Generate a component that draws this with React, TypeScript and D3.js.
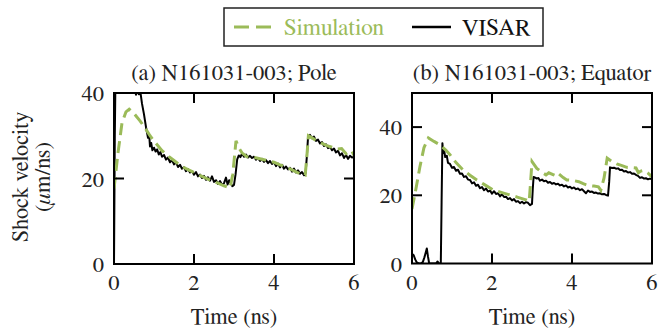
import React from "react";
import * as d3 from "d3";

// Shock velocity (µm/ns) vs time (ns), [t, v] pairs
const poleVisar: [number, number][] = [
  [0, 0], [0.02, 30], [0.04, 46], [0.2, 50], [0.4, 47], [0.5, 42], [0.55, 39.6], [0.58, 40.8],
  [0.62, 39.7], [0.66, 40.2], [0.7, 37.5], [0.75, 35], [0.8, 32], [0.85, 29.5], [0.88, 30.2],
  [0.9, 27.5], [0.93, 28.3], [0.96, 26.6], [1.0, 27.2], [1.04, 26.3], [1.08, 26.8], [1.12, 25.6],
  [1.16, 26.2], [1.2, 25.1], [1.25, 25.5], [1.3, 24.4], [1.35, 24.9], [1.4, 23.8], [1.45, 24.3],
  [1.5, 23.3], [1.55, 23.8], [1.6, 22.7], [1.65, 23.2], [1.7, 22.3], [1.75, 22.6], [1.8, 21.7],
  [1.85, 22.2], [1.9, 21.4], [1.95, 21.7], [2.0, 20.9], [2.05, 21.5], [2.1, 20.5], [2.15, 20.9],
  [2.2, 20.1], [2.25, 20.6], [2.3, 19.7], [2.35, 20.3], [2.4, 19.5], [2.45, 20.5], [2.5, 19.2],
  [2.55, 19.6], [2.6, 18.7], [2.65, 19.4], [2.7, 18.5], [2.75, 18.9], [2.8, 20.2], [2.84, 18.6],
  [2.88, 19.6], [2.92, 18.9], [2.96, 18.2], [3.0, 18.5], [3.04, 21], [3.08, 24.5], [3.12, 25.4],
  [3.16, 25], [3.2, 25.8], [3.25, 25.1], [3.3, 25.6], [3.35, 24.9], [3.4, 25.3], [3.45, 24.8],
  [3.5, 25.1], [3.55, 24.4], [3.6, 24.8], [3.65, 24.1], [3.7, 24.6], [3.75, 23.9], [3.8, 24.3],
  [3.85, 23.6], [3.9, 24.1], [3.95, 23.4], [4.0, 23.8], [4.05, 22.9], [4.1, 23.5], [4.15, 22.6],
  [4.2, 23.2], [4.25, 22.3], [4.3, 22.8], [4.35, 22.1], [4.4, 22.5], [4.45, 21.6], [4.5, 22.3],
  [4.55, 21.4], [4.6, 21.9], [4.65, 21.1], [4.7, 21.5], [4.75, 20.8], [4.79, 21.3], [4.82, 25],
  [4.85, 29.5], [4.9, 30.2], [4.95, 29.4], [5.0, 29.8], [5.05, 28.8], [5.1, 29.1], [5.15, 28.2],
  [5.2, 28.5], [5.25, 27.6], [5.3, 28], [5.35, 27.1], [5.4, 27.4], [5.45, 26.6], [5.5, 27],
  [5.55, 26.1], [5.6, 26.5], [5.65, 25.4], [5.7, 25.9], [5.75, 24.8], [5.8, 25.5], [5.85, 24.6],
  [5.9, 25.3], [5.95, 24.9], [6.0, 25.1],
];

const poleSim: [number, number][] = [
  [0, 17.6], [0.1, 26], [0.2, 33], [0.3, 35.6], [0.38, 36.2], [0.5, 35.2], [0.65, 33.5],
  [0.8, 31.5], [0.9, 30], [1.05, 28.2], [1.2, 26.5], [1.35, 25.3], [1.5, 24.2], [1.65, 23.1],
  [1.8, 22.3], [2.0, 21.4], [2.2, 20.5], [2.4, 19.6], [2.6, 18.9], [2.75, 18.3], [2.9, 17.8],
  [2.97, 21], [3.05, 28.8], [3.12, 27.2], [3.2, 26], [3.32, 25.1], [3.45, 25.0], [3.57, 24.8],
  [3.75, 24.4], [4.0, 23.8], [4.15, 23.2], [4.32, 22.6], [4.5, 21.8], [4.65, 21.1], [4.78, 20.8],
  [4.82, 25], [4.86, 30], [4.95, 29.5], [5.07, 28.8], [5.2, 28.2], [5.32, 27.7], [5.45, 27.3],
  [5.57, 26.9], [5.69, 27.0], [5.8, 25.8], [5.94, 26.5], [6.0, 25.4],
];

const equatorVisar: [number, number][] = [
  [0, 2.8], [0.04, 2.5], [0.08, 1.2], [0.12, 0.3], [0.17, 0], [0.22, 0], [0.27, 0.4], [0.31, 1.8],
  [0.35, 3.5], [0.37, 4.4], [0.4, 2], [0.43, 0], [0.5, 0], [0.6, 0], [0.64, 0.6], [0.67, 0],
  [0.72, 0], [0.74, 18], [0.76, 35.3], [0.78, 32.4], [0.8, 33.5], [0.83, 31.2], [0.87, 31.6],
  [0.9, 29.5], [0.95, 29.2], [1.0, 28.1], [1.05, 28.3], [1.1, 27.2], [1.15, 27.5], [1.2, 26.3],
  [1.25, 26.4], [1.3, 25.4], [1.35, 25.6], [1.4, 24.6], [1.45, 24.5], [1.5, 23.5], [1.55, 23.8],
  [1.6, 22.8], [1.65, 23.1], [1.7, 22.1], [1.75, 22.4], [1.8, 21.5], [1.85, 22], [1.9, 21.1],
  [1.95, 21.4], [2.0, 20.5], [2.05, 21.2], [2.1, 20.4], [2.15, 20.6], [2.2, 19.7], [2.25, 20.3],
  [2.3, 19.5], [2.35, 19.6], [2.4, 18.9], [2.45, 19.2], [2.5, 18.5], [2.55, 18.9], [2.6, 18.1],
  [2.65, 18.3], [2.7, 17.7], [2.75, 18.1], [2.8, 17.6], [2.85, 18], [2.9, 17.8], [2.95, 17.1],
  [3.0, 17.5], [3.02, 22], [3.04, 25.4], [3.08, 25.2], [3.12, 24.9], [3.16, 25.1], [3.2, 24.3],
  [3.25, 24.6], [3.3, 24.1], [3.35, 24.3], [3.4, 23.7], [3.45, 23.9], [3.5, 23.4], [3.55, 23.6],
  [3.6, 23.2], [3.65, 23.4], [3.7, 22.9], [3.75, 23.1], [3.8, 22.6], [3.85, 22.9], [3.9, 22.3],
  [3.95, 22.5], [4.0, 22.0], [4.05, 22.3], [4.1, 21.8], [4.15, 22.0], [4.2, 21.5], [4.25, 21.8],
  [4.3, 21.2], [4.35, 20.6], [4.4, 21.4], [4.45, 21.0], [4.5, 21.1], [4.55, 20.7], [4.6, 20.8],
  [4.65, 20.5], [4.7, 20.6], [4.75, 20.3], [4.8, 20.4], [4.85, 20.1], [4.9, 19.9], [4.93, 24],
  [4.95, 28.2], [5.0, 28.0], [5.05, 28.1], [5.1, 27.8], [5.15, 27.9], [5.2, 27.4], [5.25, 27.5],
  [5.3, 27.0], [5.35, 27.1], [5.4, 26.7], [5.45, 26.8], [5.5, 26.3], [5.55, 26.4], [5.6, 26.0],
  [5.65, 25.7], [5.7, 25.1], [5.75, 25.3], [5.8, 24.9], [5.85, 25.0], [5.9, 24.7], [5.95, 24.9],
  [6.0, 24.7],
];

const equatorSim: [number, number][] = [
  [0, 16], [0.1, 22], [0.2, 28.5], [0.3, 34], [0.41, 36.8], [0.55, 35.8], [0.7, 34.8],
  [0.85, 33.2], [0.95, 31.9], [1.1, 29.6], [1.28, 27.4], [1.45, 25.9], [1.62, 24.5], [1.8, 23.2],
  [2.03, 21.6], [2.25, 20.8], [2.45, 20.1], [2.65, 19.4], [2.87, 18.6], [2.93, 18.2], [2.96, 23],
  [3.0, 29.9], [3.12, 27.9], [3.28, 26.5], [3.35, 26.0], [3.42, 26.6], [3.54, 26], [3.62, 25.6],
  [3.67, 26.3], [3.78, 25.2], [3.87, 24.5], [4.0, 24.4], [4.17, 24], [4.28, 23.4], [4.4, 22.9],
  [4.55, 22.7], [4.66, 22.5], [4.72, 21.5], [4.8, 25], [4.88, 30.9], [5.0, 29.9], [5.12, 29.2],
  [5.25, 28.7], [5.37, 28.2], [5.5, 28.1], [5.6, 28.0], [5.66, 26.6], [5.72, 27.1], [5.8, 27.3],
  [5.9, 26.5], [6.0, 25.4],
];

const xTicks = [0, 2, 4, 6];
const yTicks = [0, 20, 40];
const titles = ["(a) N161031-003; Pole", "(b) N161031-003; Equator"];
const legendLabels = ["Simulation", "VISAR"];

const GREEN = "#9bbb59";
const FONT = "FreeSerif, Georgia, serif";
const FS = 22.5;
const txt = { fontFamily: FONT, fontSize: FS } as React.CSSProperties;

type Panel = {
  title: string;
  x0: number;
  x1: number;
  yTop: number;
  yBottom: number;
  yMax: number;
  sim: [number, number][];
  visar: [number, number][];
  labelX: number;
};

const panels: Panel[] = [
  { title: titles[0], x0: 114, x1: 354, yTop: 93, yBottom: 264, yMax: 40, sim: poleSim, visar: poleVisar, labelX: 104 },
  { title: titles[1], x0: 412, x1: 652, yTop: 93, yBottom: 263.5, yMax: 50, sim: equatorSim, visar: equatorVisar, labelX: 402 },
];

function PanelView({ p, idx }: { p: Panel; idx: number }) {
  const x = d3.scaleLinear().domain([0, 6]).range([p.x0, p.x1]);
  const y = d3.scaleLinear().domain([0, p.yMax]).range([p.yBottom, p.yTop]);
  const line = d3
    .line<[number, number]>()
    .x((d) => x(d[0]))
    .y((d) => y(d[1]));
  const clipId = `clip-${idx}`;
  const tickLen = 10;
  const cx = (p.x0 + p.x1) / 2;
  return (
    <g>
      <defs>
        <clipPath id={clipId}>
          <rect x={p.x0} y={p.yTop} width={p.x1 - p.x0} height={p.yBottom - p.yTop} />
        </clipPath>
      </defs>
      <g clipPath={`url(#${clipId})`}>
        <path d={line(p.visar) || ""} fill="none" stroke="#000" strokeWidth={2} strokeLinejoin="round" />
        <path d={line(p.sim) || ""} fill="none" stroke={GREEN} strokeWidth={3} strokeDasharray="12,6" />
      </g>
      {/* inward ticks on all four sides */}
      {xTicks
        .filter((t) => t > 0 && t < 6)
        .map((t) => (
          <g key={`xt${t}`} stroke="#000" strokeWidth={2}>
            <line x1={x(t)} x2={x(t)} y1={p.yBottom} y2={p.yBottom - tickLen} />
            <line x1={x(t)} x2={x(t)} y1={p.yTop} y2={p.yTop + tickLen} />
          </g>
        ))}
      {yTicks
        .filter((t) => t > 0 && t < p.yMax)
        .map((t) => (
          <g key={`yt${t}`} stroke="#000" strokeWidth={2}>
            <line x1={p.x0} x2={p.x0 + tickLen} y1={y(t)} y2={y(t)} />
            <line x1={p.x1} x2={p.x1 - tickLen} y1={y(t)} y2={y(t)} />
          </g>
        ))}
      <rect x={p.x0} y={p.yTop} width={p.x1 - p.x0} height={p.yBottom - p.yTop} fill="none" stroke="#000" strokeWidth={2} />
      {xTicks.map((t) => (
        <text key={`xl${t}`} x={x(t)} y={290} textAnchor="middle" style={txt} fill="#222">
          {t}
        </text>
      ))}
      {yTicks.map((t) => (
        <text key={`yl${t}`} x={p.labelX} y={y(t) + 8} textAnchor="end" style={txt} fill="#222">
          {t}
        </text>
      ))}
      <text x={cx} y={80} textAnchor="middle" style={txt} fill="#222">
        {p.title}
      </text>
      <text x={cx} y={324} textAnchor="middle" style={txt} fill="#222">
        Time (ns)
      </text>
    </g>
  );
}

export default function App() {
  const legendTxt = { fontFamily: FONT, fontSize: 23.5 } as React.CSSProperties;
  return (
    <svg width={659} height={331} style={{ position: "absolute", left: 0, top: 0, background: "#fff" }}>
      <rect width={659} height={331} fill="#fff" />
      {/* legend */}
      <rect x={224} y={8} width={319} height={38} fill="#fff" stroke="#222" strokeWidth={1.5} />
      <line x1={234} x2={274} y1={27} y2={27} stroke={GREEN} strokeWidth={3} strokeDasharray="15,7" />
      <text x={284} y={35} style={legendTxt} fill={GREEN}>
        {legendLabels[0]}
      </text>
      <line x1={412} x2={451} y1={27} y2={27} stroke="#000" strokeWidth={2.5} />
      <text x={462} y={35} style={legendTxt} fill="#111">
        {legendLabels[1]}
      </text>
      {/* y-axis title */}
      <g transform="translate(28,177) rotate(-90)">
        <text x={0} y={0} textAnchor="middle" style={txt} fill="#222">
          Shock velocity
        </text>
        <text x={0} y={22} textAnchor="middle" style={txt} fill="#222">
          (<tspan fontStyle="italic">μ</tspan>m/ns)
        </text>
      </g>
      {panels.map((p, i) => (
        <PanelView key={i} p={p} idx={i} />
      ))}
    </svg>
  );
}
